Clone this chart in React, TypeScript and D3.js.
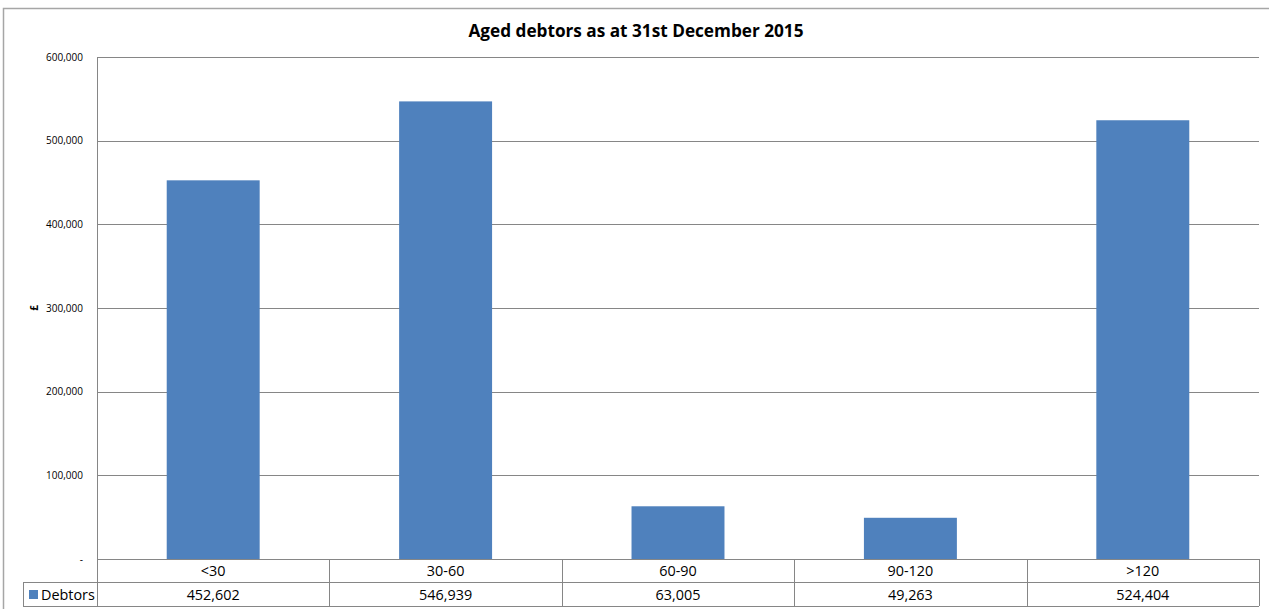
import React from "react";
import * as d3 from "d3";

const categories = ["<30", "30-60", "60-90", "90-120", ">120"];
const debtors = [452602, 546939, 63005, 49263, 524404];
const yTicks = [0, 100000, 200000, 300000, 400000, 500000, 600000];
const seriesName = "Debtors";
const title = "Aged debtors as at 31st December 2015";

const W = 1269;
const H = 609;
const left = 97;
const right = 1259;
const top = 57;
const bottom = 559;
const row1 = 582;
const row2 = 606;
const font = "'Open Sans', sans-serif";
const barColor = "#4F81BD";
const gridColor = "#868686";

export default function App() {
  const x = d3.scaleBand<string>().domain(categories).range([left, right]).paddingInner(0.6).paddingOuter(0.3);
  const xCell = d3.scaleBand<string>().domain(categories).range([left, right]);
  const y = d3.scaleLinear().domain([0, 600000]).range([bottom, top]);
  const fmt = d3.format(",");
  return (
    <svg width={W} height={H} style={{ position: "absolute", left: 0, top: 0, fontFamily: font }}>
      <rect x={0} y={0} width={W} height={H} fill="#fff" />
      <path d={`M3.5,${H} V8.5 H${W}`} fill="none" stroke="#a6a6a6" strokeWidth={1.5} />
      <text x={636} y={37} textAnchor="middle" fontSize={17.2} fontWeight="bold" fill="#000">{title}</text>
      {yTicks.map((t) => (
        <g key={t}>
          {t > 0 && <line x1={left} x2={right} y1={Math.round(y(t)) + 0.5} y2={Math.round(y(t)) + 0.5} stroke={gridColor} strokeWidth={1} />}
          <text x={83} y={y(t) + 3.5} textAnchor="end" fontSize={10} fill="#000">{t === 0 ? "-" : fmt(t)}</text>
        </g>
      ))}
      <text transform={`translate(38,${(top + bottom) / 2}) rotate(-90)`} textAnchor="middle" fontSize={10} fontWeight="bold">£</text>
      {categories.map((c, i) => (
        <rect key={c} x={x(c)} y={y(debtors[i])} width={x.bandwidth()} height={bottom - y(debtors[i])} fill={barColor} />
      ))}
      <line x1={left + 0.5} x2={left + 0.5} y1={top} y2={row2} stroke={gridColor} />
      <line x1={left} x2={right} y1={top + 0.5} y2={top + 0.5} stroke={gridColor} />
      {/* data table */}
      <line x1={left} x2={right} y1={bottom + 0.5} y2={bottom + 0.5} stroke={gridColor} />
      <line x1={23} x2={right} y1={row1 + 0.5} y2={row1 + 0.5} stroke={gridColor} />
      <line x1={23} x2={right} y1={row2 + 0.5} y2={row2 + 0.5} stroke={gridColor} />
      <line x1={23.5} x2={23.5} y1={row1} y2={row2} stroke={gridColor} />
      {categories.map((c, i) => (
        <g key={c}>
          <line x1={Math.round((xCell(c) as number) + xCell.bandwidth()) + 0.5} x2={Math.round((xCell(c) as number) + xCell.bandwidth()) + 0.5} y1={bottom} y2={row2} stroke={gridColor} />
          <text x={(xCell(c) as number) + xCell.bandwidth() / 2} y={bottom + 17} textAnchor="middle" fontSize={14.4}>{c}</text>
          <text x={(xCell(c) as number) + xCell.bandwidth() / 2} y={row1 + 18} textAnchor="middle" fontSize={14.4}>{fmt(debtors[i])}</text>
        </g>
      ))}
      <rect x={29} y={590} width={9} height={9} fill={barColor} />
      <text x={41} y={row1 + 18} fontSize={14.4}>{seriesName}</text>
    </svg>
  );
}
